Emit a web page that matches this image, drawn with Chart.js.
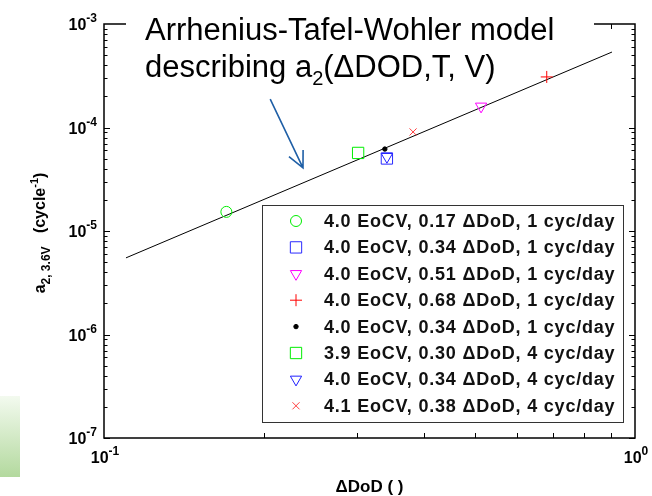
<!DOCTYPE html>
<html>
<head>
<meta charset="utf-8">
<script src="https://cdn.jsdelivr.net/npm/chart.js@4.4.1/dist/chart.umd.min.js"></script>
<style>
    body { margin: 0; background: #fff; }
    #wrap { position: relative; width: 652px; height: 496px; }
    #deco { position: absolute; left: 0; top: 396px; width: 20px; height: 81px;
            background: linear-gradient(#f3faef, #b3d99e); }
</style>
</head>
<body>
<div id="wrap">
    <canvas id="agingChart" width="652" height="496"></canvas>
    <div id="deco"></div>
</div>
<script>
// --- data ---
const seriesLabels = [
    '4.0 EoCV, 0.17 ΔDoD, 1 cyc/day',
    '4.0 EoCV, 0.34 ΔDoD, 1 cyc/day',
    '4.0 EoCV, 0.51 ΔDoD, 1 cyc/day',
    '4.0 EoCV, 0.68 ΔDoD, 1 cyc/day',
    '4.0 EoCV, 0.34 ΔDoD, 1 cyc/day',
    '3.9 EoCV, 0.30 ΔDoD, 4 cyc/day',
    '4.0 EoCV, 0.34 ΔDoD, 4 cyc/day',
    '4.1 EoCV, 0.38 ΔDoD, 4 cyc/day'
];
const seriesDod = [0.170, 0.341, 0.513, 0.682, 0.338, 0.301, 0.341, 0.382];
const seriesA2 = [1.53e-5, 5.02e-5, 1.60e-4, 3.08e-4, 6.19e-5, 5.68e-5, 5.22e-5, 9.06e-5];

// Arrhenius-Tafel-Wohler model curve
const modelDod = [0.110, 0.905];
const modelA2 = [5.5e-6, 5.36e-4];

// decade tick labels (exponents)
const xExponents = [-1, 0];
const yExponents = [-7, -6, -5, -4, -3];

// annotation arrow, in data units
const arrowFrom = [0.2056, 1.88e-4];
const arrowTo = [0.237, 4.07e-5];

// marker styles, same order as the series
const markers = [
    { pointStyle: 'circle', radius: 5.5, color: '#00ee00', filled: false },
    { pointStyle: 'rect', radius: 8, color: '#2a2aff', filled: false },
    { pointStyle: 'triangle', rotation: 180, radius: 6.5, color: '#ff00ff', filled: false },
    { pointStyle: 'cross', radius: 6, color: '#ff0000', filled: false },
    { pointStyle: 'circle', radius: 2.2, color: '#000000', filled: true },
    { pointStyle: 'rect', radius: 8, color: '#00ee00', filled: false },
    { pointStyle: 'triangle', rotation: 180, radius: 6.5, color: '#2020ff', filled: false },
    { pointStyle: 'crossRot', radius: 5, color: '#ff4040', filled: false }
];

const FONT = '"Liberation Sans", Arial, sans-serif';

const pointDatasets = seriesLabels.map((label, i) => ({
    label: label,
    data: [{ x: seriesDod[i], y: seriesA2[i] }],
    showLine: false,
    pointStyle: markers[i].pointStyle,
    pointRotation: markers[i].rotation || 0,
    pointRadius: markers[i].radius,
    pointBorderWidth: 1,
    borderColor: markers[i].color,
    backgroundColor: markers[i].filled ? markers[i].color : 'rgba(0,0,0,0)'
}));

// draws "10" with a superscript exponent
function drawPower(ctx, exp, x, y, align) {
    const base = '10', sup = String(exp);
    ctx.font = 'bold 16px ' + FONT;
    const wb = ctx.measureText(base).width;
    ctx.font = 'bold 12px ' + FONT;
    const ws = ctx.measureText(sup).width;
    let left = align === 'right' ? x - wb - ws : x - (wb + ws) / 2;
    ctx.textAlign = 'left';
    ctx.textBaseline = 'alphabetic';
    ctx.font = 'bold 16px ' + FONT;
    ctx.fillText(base, left, y);
    ctx.font = 'bold 12px ' + FONT;
    ctx.fillText(sup, left + wb, y - 8);
}

function drawMarker(ctx, m, x, y) {
    ctx.save();
    ctx.strokeStyle = m.color;
    ctx.fillStyle = m.filled ? m.color : 'rgba(0,0,0,0)';
    ctx.lineWidth = 1;
    if (Chart.helpers && Chart.helpers.drawPoint) {
        Chart.helpers.drawPoint(ctx, {
            pointStyle: m.pointStyle, radius: m.radius,
            rotation: m.rotation || 0, borderWidth: 1
        }, x, y);
    }
    ctx.restore();
}

const framePlugin = {
    id: 'frame',
    beforeDatasetsDraw(chart) {
        const { ctx, chartArea: a, scales } = chart;
        ctx.save();
        ctx.strokeStyle = '#000';
        ctx.lineWidth = 1.5;
        ctx.strokeRect(a.left, a.top, a.right - a.left, a.bottom - a.top);
        ctx.lineWidth = 1;
        ctx.beginPath();
        // y ticks, left and right, pointing inward
        for (let k = yExponents[0]; k < yExponents[yExponents.length - 1]; k++) {
            for (let m = 1; m <= 9; m++) {
                const py = Math.round(scales.y.getPixelForValue(m * Math.pow(10, k))) + 0.5;
                const len = m === 1 ? 6 : 3.5;
                ctx.moveTo(a.left, py); ctx.lineTo(a.left + len, py);
                ctx.moveTo(a.right, py); ctx.lineTo(a.right - len, py);
            }
        }
        // x ticks, bottom and top
        for (let m = 2; m <= 9; m++) {
            const px = Math.round(scales.x.getPixelForValue(m / 10)) + 0.5;
            ctx.moveTo(px, a.bottom); ctx.lineTo(px, a.bottom - 5);
            ctx.moveTo(px, a.top); ctx.lineTo(px, a.top + 5);
        }
        ctx.stroke();
        ctx.restore();
    },
    afterDraw(chart) {
        const { ctx, chartArea: a, scales } = chart;
        ctx.save();
        ctx.fillStyle = '#000';

        // tick labels
        yExponents.forEach(k => {
            const py = scales.y.getPixelForValue(Math.pow(10, k));
            drawPower(ctx, k, a.left - 7, py + 6, 'right');
        });
        xExponents.forEach(k => {
            const px = scales.x.getPixelForValue(Math.pow(10, k));
            drawPower(ctx, k, px + 1, a.bottom + 25, 'center');
        });

        // x axis title
        ctx.font = 'bold 17px ' + FONT;
        ctx.textAlign = 'center';
        ctx.fillText('ΔDoD ( )', (a.left + a.right) / 2, a.bottom + 54);

        // y axis title, rotated, with sub/superscripts
        const parts = [
            { t: 'a', f: 'bold 16px ', dy: 0 },
            { t: '2, 3.6V', f: 'bold 12px ', dy: 5 },
            { t: '   (cycle', f: 'bold 16px ', dy: 0 },
            { t: '-1', f: 'bold 11px ', dy: -7 },
            { t: ')', f: 'bold 16px ', dy: 0 }
        ];
        ctx.save();
        ctx.translate(45, (a.top + a.bottom) / 2 + 2);
        ctx.rotate(-Math.PI / 2);
        ctx.textAlign = 'left';
        let total = 0;
        parts.forEach(p => { ctx.font = p.f + FONT; total += ctx.measureText(p.t).width; });
        let cx = -total / 2;
        parts.forEach(p => {
            ctx.font = p.f + FONT;
            ctx.fillText(p.t, cx, p.dy);
            cx += ctx.measureText(p.t).width;
        });
        ctx.restore();

        // annotation: white box over the top border and the text
        ctx.fillStyle = '#fff';
        ctx.fillRect(a.left + 22, 0, 468, a.top + 6);
        ctx.fillStyle = '#000';
        ctx.textAlign = 'left';
        ctx.font = '31px ' + FONT;
        const tx = a.left + 41;
        ctx.fillText('Arrhenius-Tafel-Wohler model', tx, 40);
        const l2a = 'describing a';
        ctx.fillText(l2a, tx, 77);
        let w = ctx.measureText(l2a).width;
        ctx.font = '20px ' + FONT;
        ctx.fillText('2', tx + w, 85);
        w += ctx.measureText('2').width;
        ctx.font = '31px ' + FONT;
        ctx.fillText('(ΔDOD,T, V)', tx + w, 77);

        // arrow
        const x0 = scales.x.getPixelForValue(arrowFrom[0]), y0 = scales.y.getPixelForValue(arrowFrom[1]);
        const x1 = scales.x.getPixelForValue(arrowTo[0]), y1 = scales.y.getPixelForValue(arrowTo[1]);
        const ang = Math.atan2(y1 - y0, x1 - x0);
        ctx.strokeStyle = '#1f5fa6';
        ctx.lineWidth = 1.6;
        ctx.beginPath();
        ctx.moveTo(x0, y0); ctx.lineTo(x1, y1);
        ctx.moveTo(x1 - 18 * Math.cos(ang - 0.45), y1 - 18 * Math.sin(ang - 0.45));
        ctx.lineTo(x1, y1);
        ctx.lineTo(x1 - 18 * Math.cos(ang + 0.45), y1 - 18 * Math.sin(ang + 0.45));
        ctx.stroke();

        // legend box in lower right
        const bw = 361, bh = 217;
        const bx = a.right - 12 - bw, by = a.bottom - 16 - bh;
        ctx.fillStyle = '#fff';
        ctx.fillRect(bx, by, bw, bh);
        ctx.strokeStyle = '#333';
        ctx.lineWidth = 1;
        ctx.strokeRect(bx + 0.5, by + 0.5, bw, bh);
        ctx.font = 'bold 18px ' + FONT;
        ctx.textBaseline = 'middle';
        if ('letterSpacing' in ctx) ctx.letterSpacing = '0.8px';
        seriesLabels.forEach((label, i) => {
            const ry = by + 16 + i * 26.4;
            drawMarker(ctx, markers[i], bx + 34, ry);
            ctx.fillStyle = '#111';
            ctx.fillText(label, bx + 62, ry + 1);
        });
        ctx.restore();
    }
};

new Chart(document.getElementById('agingChart'), {
    type: 'scatter',
    data: {
        datasets: [
            ...pointDatasets,
            {
                label: 'model',
                data: modelDod.map((d, i) => ({ x: d, y: modelA2[i] })),
                showLine: true,
                pointRadius: 0,
                borderColor: '#000',
                borderWidth: 1
            }
        ]
    },
    options: {
        responsive: false,
        animation: false,
        layout: { padding: { left: 104, right: 17, top: 24, bottom: 58 } },
        plugins: {
            legend: { display: false },
            tooltip: { enabled: false }
        },
        scales: {
            x: { type: 'logarithmic', min: 0.1, max: 1, display: false },
            y: { type: 'logarithmic', min: 1e-7, max: 1e-3, display: false }
        }
    },
    plugins: [framePlugin]
});
</script>
</body>
</html>
